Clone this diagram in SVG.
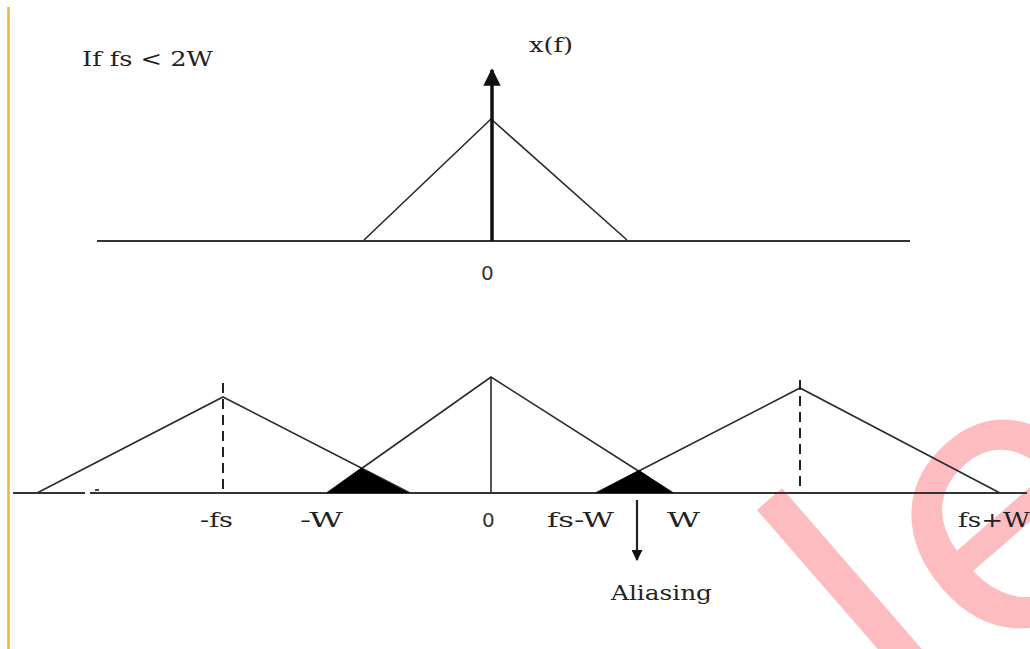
<svg xmlns="http://www.w3.org/2000/svg" width="1030" height="649" viewBox="0 0 1030 649">
<style>
.ln{stroke:#2a2a2a;stroke-width:1.6;fill:none}
.ax{stroke:#333;stroke-width:1.8;fill:none}
.ds{stroke:#222;stroke-width:2;fill:none;stroke-dasharray:10,6}
.tx{font-family:"DejaVu Serif","Liberation Serif",serif;font-size:20px;fill:#222}
.sx{font-family:"DejaVu Sans","Liberation Sans",sans-serif;font-size:20px;fill:#333}
</style>
<defs>
<marker id="ah" viewBox="0 0 10 10" refX="9" refY="5" markerWidth="5" markerHeight="5" orient="auto" markerUnits="strokeWidth">
<path d="M0,0 L10,5 L0,10 z" fill="#111"/>
</marker>
</defs>
<rect width="1030" height="649" fill="#fff"/>
<text x="915" y="745" transform="rotate(-41 915 745)" style="font-family:'DejaVu Sans',sans-serif;font-size:370px;fill:#fcbcc0">le</text>
<line x1="8.5" y1="7" x2="8.5" y2="649" stroke="#e8b640" stroke-width="2.5"/>
<g id="top-plot">
<line class="ax" x1="97" y1="241" x2="910" y2="241"/>
<polyline class="ln" points="364,240 491,119 627,240"/>
<text class="sx" x="481" y="280">0</text>
</g>
<g id="bottom-plot">
<line class="ax" x1="13" y1="493" x2="85" y2="493"/>
<line class="ax" x1="90" y1="493" x2="1027" y2="493"/>
<line class="ax" x1="95" y1="490" x2="99" y2="490"/>
<polyline class="ln" points="37,493 223,397 410,493"/>
<polyline class="ln" points="327,493 491,377 673,493"/>
<polyline class="ln" points="596,493 800,388 1000,493"/>
<line class="ln" x1="491" y1="377" x2="491" y2="493"/>
<polygon points="327,493 361,468 409,493" fill="#000"/>
<polygon points="596,493 639,470 673,493" fill="#000"/>
<text class="tx" x="200" y="527" textLength="33" lengthAdjust="spacingAndGlyphs">-fs</text>
<text class="tx" x="300" y="527" textLength="43" lengthAdjust="spacingAndGlyphs">-W</text>
<text class="sx" x="482" y="527">0</text>
<text class="tx" x="547" y="527" textLength="67" lengthAdjust="spacingAndGlyphs">fs-W</text>
<text class="tx" x="667" y="527" textLength="33" lengthAdjust="spacingAndGlyphs">W</text>
<text class="tx" x="958" y="527" textLength="72" lengthAdjust="spacingAndGlyphs">fs+W</text>
</g>
<g id="labels">
<text class="tx" x="82" y="66" textLength="131" lengthAdjust="spacingAndGlyphs">If fs &lt; 2W</text>
<text class="tx" x="529" y="52" textLength="44" lengthAdjust="spacingAndGlyphs">x(f)</text>
<text class="tx" x="611" y="600" textLength="101" lengthAdjust="spacingAndGlyphs">Aliasing</text>
</g>
<g id="connectors">
<line x1="492" y1="241" x2="492" y2="70" stroke="#111" stroke-width="3.5" marker-end="url(#ah)"/>
<line x1="637" y1="500" x2="637" y2="560" stroke="#222" stroke-width="2.2" marker-end="url(#ah)"/>
<line class="ds" x1="223" y1="383" x2="223" y2="493"/>
<line class="ds" x1="800" y1="380" x2="800" y2="493"/>
</g>
</svg>
